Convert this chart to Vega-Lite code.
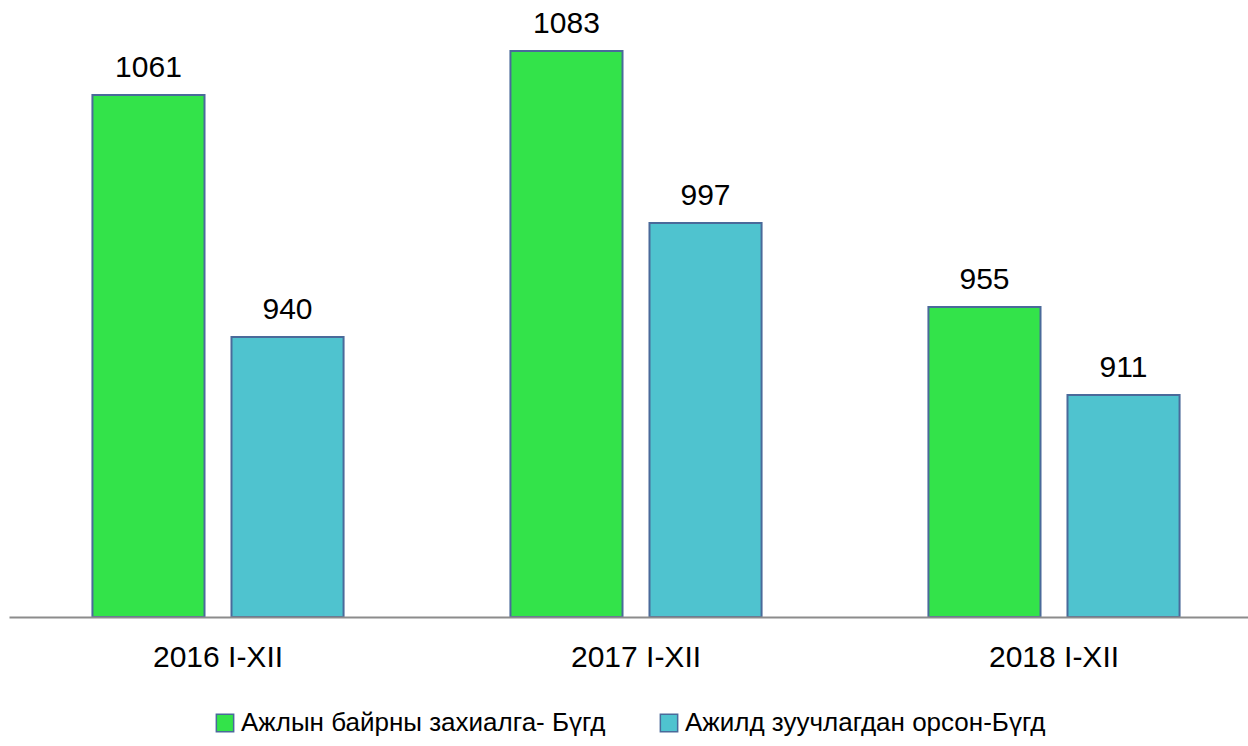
{
  "$schema": "https://vega.github.io/schema/vega-lite/v6.json",
  "width": 1239,
  "height": 617,
  "padding": {"left": 9, "top": 0, "right": 0, "bottom": 0},
  "background": "white",
  "data": {
    "values": [
      {"year": "2016 I-XII", "series": "Ажлын байрны захиалга- Бүгд", "value": 1061},
      {"year": "2016 I-XII", "series": "Ажилд зуучлагдан орсон-Бүгд", "value": 940},
      {"year": "2017 I-XII", "series": "Ажлын байрны захиалга- Бүгд", "value": 1083},
      {"year": "2017 I-XII", "series": "Ажилд зуучлагдан орсон-Бүгд", "value": 997},
      {"year": "2018 I-XII", "series": "Ажлын байрны захиалга- Бүгд", "value": 955},
      {"year": "2018 I-XII", "series": "Ажилд зуучлагдан орсон-Бүгд", "value": 911}
    ]
  },
  "config": {
    "view": {"stroke": null},
    "font": "Liberation Sans",
    "legend": {"layout": {"bottom": {"anchor": "middle"}}}
  },
  "encoding": {
    "x": {
      "field": "year",
      "type": "nominal",
      "scale": {"range": [0, 1254], "paddingInner": 0, "paddingOuter": 0},
      "axis": {
        "title": null,
        "labelAngle": 0,
        "labelFontSize": 30,
        "labelFont": "Liberation Sans",
        "labelColor": "#000000",
        "ticks": false,
        "tickSize": 0,
        "labelPadding": 25,
        "domainColor": "#8c8c8c",
        "domainWidth": 2,
        "zindex": 1
      }
    },
    "xOffset": {
      "field": "series",
      "type": "nominal",
      "sort": ["Ажлын байрны захиалга- Бүгд", "Ажилд зуучлагдан орсон-Бүгд"],
      "scale": {"paddingInner": 0.194, "paddingOuter": 0.6}
    },
    "y": {
      "field": "value",
      "type": "quantitative",
      "scale": {"domain": [800, 1108.5], "zero": false, "nice": false},
      "axis": null
    }
  },
  "layer": [
    {
      "mark": {"type": "bar", "stroke": "#4a6a9a", "strokeWidth": 2, "opacity": 1},
      "encoding": {
        "y2": {"datum": 800},
        "color": {
          "field": "series",
          "type": "nominal",
          "sort": ["Ажлын байрны захиалга- Бүгд", "Ажилд зуучлагдан орсон-Бүгд"],
          "scale": {"range": ["#33e34a", "#4fc3cf"]},
          "legend": {
            "title": null,
            "orient": "bottom",
            "direction": "horizontal",
            "symbolType": "square",
            "symbolSize": 300,
            "symbolStrokeColor": "#4a6a9a",
            "symbolStrokeWidth": 1.5,
            "symbolOpacity": 1,
            "labelFontSize": 26,
            "labelFont": "Liberation Sans",
            "labelColor": "#000000",
            "labelLimit": 600,
            "labelOffset": 3,
            "columnPadding": 50,
            "offset": 38
          }
        }
      }
    },
    {
      "mark": {"type": "text", "baseline": "alphabetic", "dy": -18, "fontSize": 30, "font": "Liberation Sans", "color": "#000000"},
      "encoding": {
        "text": {"field": "value", "type": "quantitative"}
      }
    }
  ]
}
